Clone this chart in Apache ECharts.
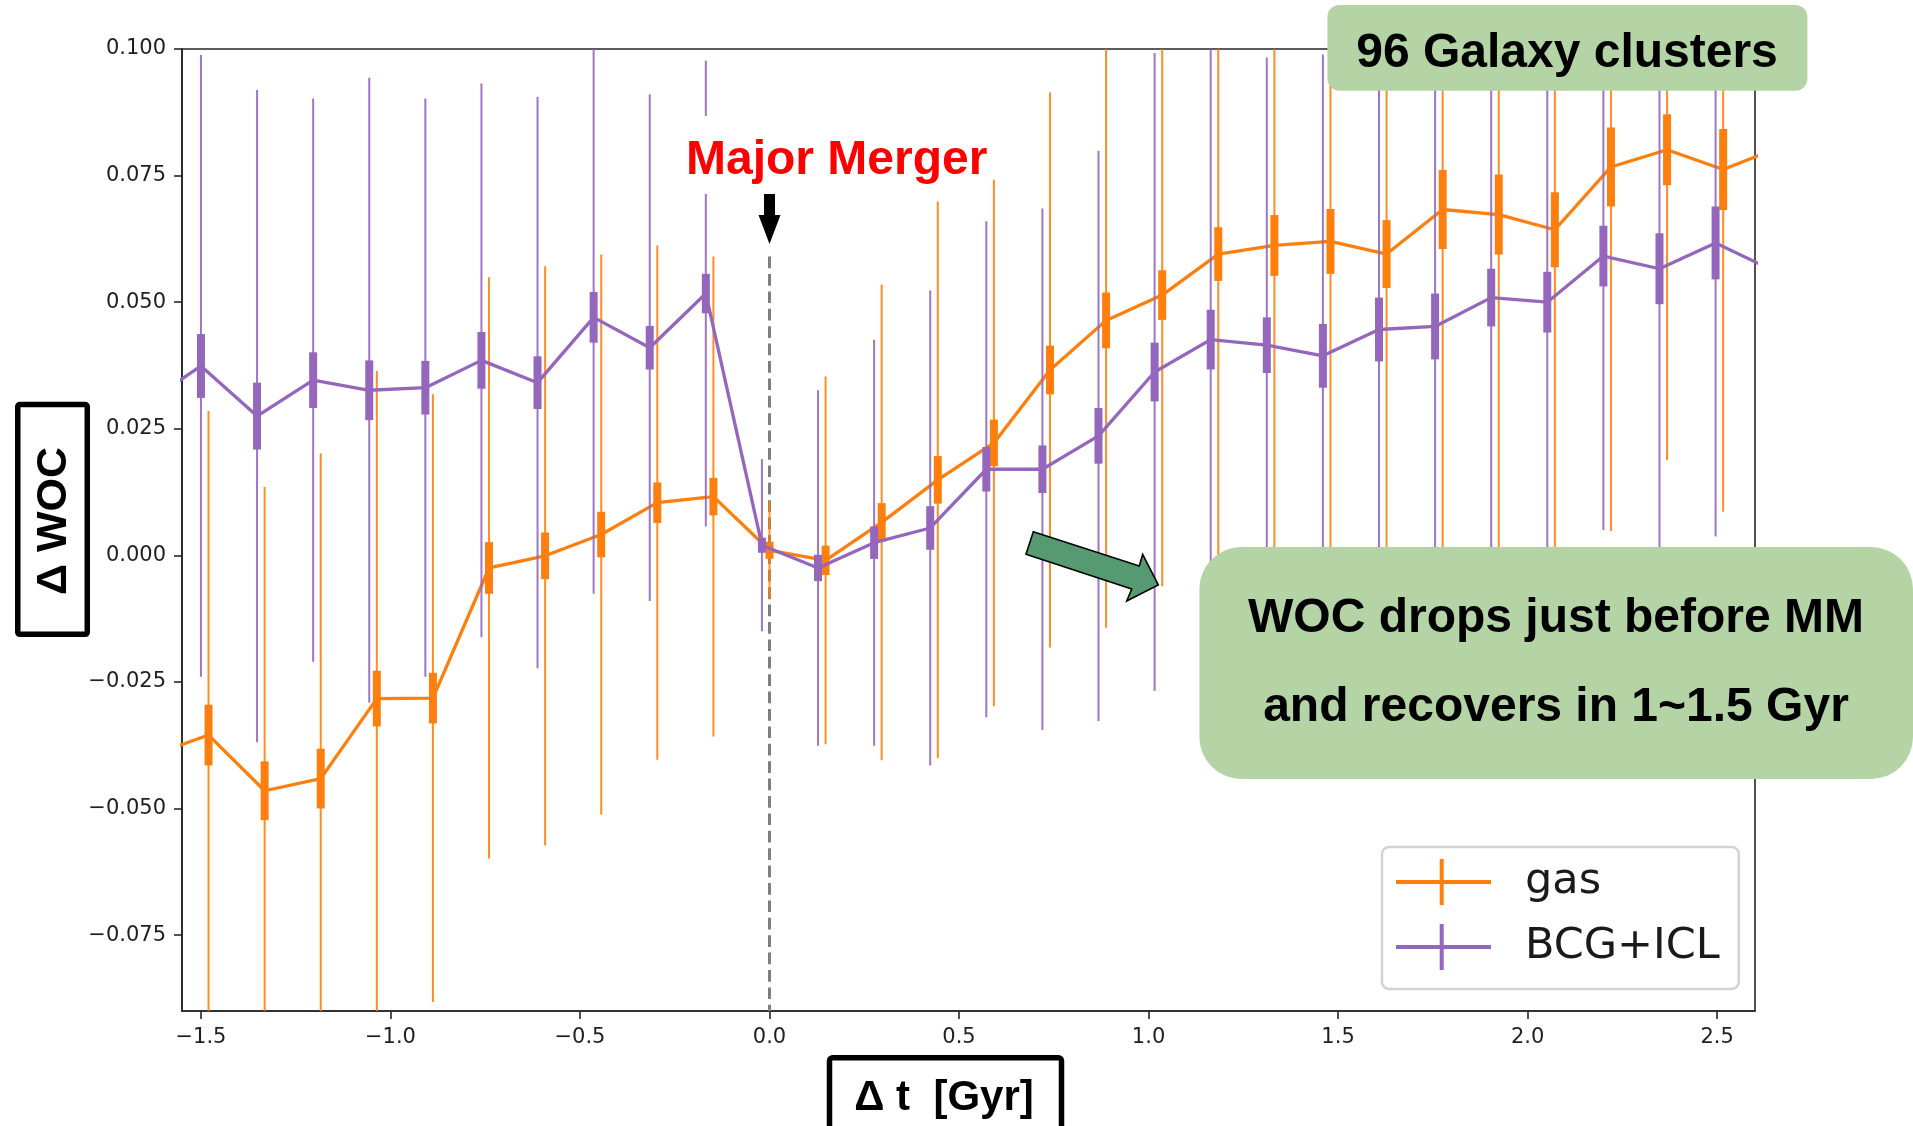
<!DOCTYPE html>
<html>
<head>
<meta charset="utf-8">
<title>ΔWOC around major mergers</title>
<script src="https://cdn.jsdelivr.net/npm/echarts@6/dist/echarts.min.js"></script>
<style>
  html, body { margin: 0; padding: 0; background: #ffffff; }
  #chart { width: 1913px; height: 1126px; }
</style>
</head>
<body>
<div id="chart"></div>
<script>
// Time relative to the major merger [Gyr]; first and last entries lie just outside the plotted window.
const times = [-1.628, -1.480, -1.332, -1.184, -1.036, -0.888, -0.740, -0.592, -0.444, -0.296,
               -0.148, 0.000, 0.148, 0.296, 0.444, 0.592, 0.740, 0.888, 1.036, 1.184,
               1.332, 1.480, 1.628, 1.776, 1.924, 2.072, 2.220, 2.368, 2.516, 2.664];

// gas: mean ΔWOC, scatter (thin bars) and error of the mean (thick bars)
const gasMean = [-0.0395, -0.0355, -0.0465, -0.0441, -0.0283, -0.0282, -0.0025, -0.0001, 0.0041, 0.0104,
                 0.0116, 0.0010, -0.0010, 0.0065, 0.0149, 0.0222, 0.0366, 0.0464, 0.0514, 0.0595,
                 0.0612, 0.0620, 0.0595, 0.0683, 0.0673, 0.0643, 0.0767, 0.0801, 0.0762, 0.0806];
const gasStd  = [null, 0.0640, 0.0600, 0.0642, 0.0647, 0.0600, 0.0574, 0.0572, 0.0553, 0.0508,
                 0.0474, 0.0097, 0.0363, 0.0470, 0.0550, 0.0520, 0.0548, 0.0607, 0.0575, 0.0600,
                 0.0620, 0.0640, 0.0660, 0.0760, 0.0770, 0.0730, 0.0719, 0.0613, 0.0676, null];
const gasSem  = [null, 0.0060, 0.0058, 0.0059, 0.0055, 0.0050, 0.0051, 0.0046, 0.0045, 0.0040,
                 0.0037, 0.0017, 0.0029, 0.0038, 0.0047, 0.0046, 0.0048, 0.0055, 0.0049, 0.0053,
                 0.0060, 0.0064, 0.0067, 0.0078, 0.0079, 0.0074, 0.0078, 0.0070, 0.0080, null];

// BCG+ICL: same quantities
const bcgMean = [0.0298, 0.0374, 0.0275, 0.0346, 0.0326, 0.0331, 0.0385, 0.0341, 0.0470, 0.0410,
                 0.0517, 0.0020, -0.0025, 0.0025, 0.0054, 0.0170, 0.0170, 0.0236, 0.0362, 0.0426,
                 0.0415, 0.0394, 0.0446, 0.0452, 0.0509, 0.0500, 0.0591, 0.0566, 0.0617, 0.0564];
const bcgStd  = [null, 0.0614, 0.0644, 0.0556, 0.0617, 0.0571, 0.0547, 0.0564, 0.0546, 0.0500,
                 0.0460, 0.0170, 0.0351, 0.0401, 0.0469, 0.0490, 0.0515, 0.0563, 0.0630, 0.0600,
                 0.0568, 0.0595, 0.0560, 0.0550, 0.0560, 0.0550, 0.0541, 0.0600, 0.0580, null];
const bcgSem  = [null, 0.0063, 0.0066, 0.0055, 0.0059, 0.0053, 0.0056, 0.0052, 0.0050, 0.0043,
                 0.0039, 0.0015, 0.0026, 0.0032, 0.0043, 0.0044, 0.0047, 0.0055, 0.0058, 0.0059,
                 0.0055, 0.0063, 0.0063, 0.0065, 0.0057, 0.0060, 0.0060, 0.0070, 0.0072, null];

// Axis ticks and the merger marker extent
const xTicks = [-1.5, -1.0, -0.5, 0.0, 0.5, 1.0, 1.5, 2.0, 2.5];
const yTicks = [-0.075, -0.050, -0.025, 0.000, 0.025, 0.050, 0.075, 0.100];
const mergerTime = 0.0;
const mergerLineTop = 0.059;

// ---- styling ----
const X_MIN = -1.55, X_MAX = 2.6, Y_MIN = -0.09, Y_MAX = 0.10;
const BCG_SHIFT = -0.02;          // horizontal dodge so the two error-bar sets do not overlap
const GAS_COLOR = '#ff7f0e';
const BCG_COLOR = '#9467bd';
const AXIS_COLOR = '#262626';
const MINUS = '\u2212';

function fmt(v, d) {
  const s = Math.abs(v).toFixed(d);
  return (v < -1e-12 ? MINUS : '') + s;
}

function errData(xs, mean, std, sem) {
  const out = [];
  xs.forEach((x, i) => { if (std[i] != null) out.push([x, mean[i], std[i], sem[i]]); });
  return out;
}

function errRenderer(color) {
  return function (params, api) {
    const x = api.value(0), y = api.value(1), s = api.value(2), e = api.value(3);
    const a = api.coord([x, y + s]), b = api.coord([x, y - s]);
    const c = api.coord([x, y + e]), d = api.coord([x, y - e]);
    return {
      type: 'group',
      children: [
        { type: 'line', shape: { x1: a[0], y1: a[1], x2: b[0], y2: b[1] },
          style: { stroke: color, lineWidth: 2, opacity: 0.9 } },
        { type: 'rect', shape: { x: c[0] - 4, y: c[1], width: 8, height: d[1] - c[1] },
          style: { fill: color } }
      ]
    };
  };
}

const gasX = times.slice();
const bcgX = times.map(t => +(t + BCG_SHIFT).toFixed(3));

const legendIcon = 'path://M0,21H95V25H0Z M43.7,0H47.7V46H43.7Z';

const chart = echarts.init(document.getElementById('chart'), null, { renderer: 'canvas' });

chart.setOption({
  animation: false,
  backgroundColor: '#ffffff',
  grid: {
    left: 182, right: 158, top: 49, bottom: 115,
    show: true, borderColor: AXIS_COLOR, borderWidth: 1.6, backgroundColor: 'transparent'
  },
  xAxis: {
    type: 'value', min: X_MIN, max: X_MAX,
    axisLine: { show: true, onZero: false, lineStyle: { color: AXIS_COLOR, width: 1.6 } },
    axisTick: { show: true, inside: false, length: 8, customValues: xTicks,
                lineStyle: { color: AXIS_COLOR, width: 1.6 } },
    axisLabel: { customValues: xTicks, margin: 16, color: '#1f1f1f',
                 fontFamily: 'DejaVu Sans', fontSize: 21, formatter: v => fmt(v, 1) },
    splitLine: { show: false }
  },
  yAxis: {
    type: 'value', min: Y_MIN, max: Y_MAX,
    axisLine: { show: true, onZero: false, lineStyle: { color: AXIS_COLOR, width: 1.6 } },
    axisTick: { show: true, inside: false, length: 8, customValues: yTicks,
                lineStyle: { color: AXIS_COLOR, width: 1.6 } },
    axisLabel: { customValues: yTicks, margin: 16, color: '#1f1f1f', padding: [8, 0, 0, 0],
                 fontFamily: 'DejaVu Sans', fontSize: 21, formatter: v => fmt(v, 3) },
    splitLine: { show: false }
  },
  legend: {
    orient: 'vertical',
    left: 1382, top: 847,
    data: [
      { name: 'gas', icon: legendIcon },
      { name: 'BCG+ICL', icon: legendIcon }
    ],
    itemWidth: 95, itemHeight: 46, itemGap: 19,
    padding: [12, 19, 19, 14],
    backgroundColor: 'rgba(255,255,255,0.85)',
    borderColor: '#d2d2d2', borderWidth: 2.5, borderRadius: 7,
    textStyle: { fontFamily: 'DejaVu Sans', fontSize: 43, lineHeight: 40, color: '#1a1a1a',
                 padding: [6, 0, 0, 29] },
    selectedMode: false
  },
  series: [
    {
      name: 'merger', type: 'line', z: 1, silent: true,
      data: [[mergerTime, mergerLineTop], [mergerTime, Y_MIN]],
      symbol: 'none',
      lineStyle: { color: '#7f7f7f', width: 3, type: [11.7, 5.7] }
    },
    {
      name: 'gasErr', type: 'custom', z: 2, clip: true, silent: true,
      data: errData(gasX, gasMean, gasStd, gasSem),
      encode: { x: 0, y: 1 },
      renderItem: errRenderer(GAS_COLOR)
    },
    {
      name: 'gas', type: 'line', z: 3, clip: true,
      data: gasX.map((x, i) => [x, gasMean[i]]),
      symbol: 'none', color: GAS_COLOR,
      itemStyle: { color: GAS_COLOR },
      lineStyle: { color: GAS_COLOR, width: 3.3 }
    },
    {
      name: 'bcgErr', type: 'custom', z: 4, clip: true, silent: true,
      data: errData(bcgX, bcgMean, bcgStd, bcgSem),
      encode: { x: 0, y: 1 },
      renderItem: errRenderer(BCG_COLOR)
    },
    {
      name: 'BCG+ICL', type: 'line', z: 5, clip: true,
      data: bcgX.map((x, i) => [x, bcgMean[i]]),
      symbol: 'none', color: BCG_COLOR,
      itemStyle: { color: BCG_COLOR },
      lineStyle: { color: BCG_COLOR, width: 3.3 }
    }
  ]
});

// ---- annotations ----
const x0 = chart.convertToPixel({ xAxisIndex: 0 }, mergerTime);
const BOLD = 'Liberation Sans, Arial, sans-serif';

chart.setOption({
  graphic: [
    // "Major Merger" label on a white patch, with a pointer down to the merger line
    { type: 'rect', z: 100, shape: { x: 683, y: 116, width: 307, height: 78 },
      style: { fill: '#ffffff' } },
    { type: 'text', z: 101, x: 836.7, y: 160.5,
      style: { text: 'Major Merger', fill: '#ff0000', font: 'bold 48px ' + BOLD,
               align: 'center', verticalAlign: 'middle' } },
    { type: 'polygon', z: 101,
      shape: { points: [[x0 - 5.5, 194], [x0 + 5.5, 194], [x0 + 5.5, 215], [x0 + 11, 215],
                        [x0, 244], [x0 - 11, 215], [x0 - 5.5, 215]] },
      style: { fill: '#000000' } },

    // cluster count tag
    { type: 'rect', z: 100, shape: { x: 1327.4, y: 5, width: 480, height: 85.7, r: 12 },
      style: { fill: '#b4d4a6' } },
    { type: 'text', z: 101, x: 1567, y: 53.5,
      style: { text: '96 Galaxy clusters', fill: '#000000', font: 'bold 48px ' + BOLD,
               align: 'center', verticalAlign: 'middle' } },

    // summary note and its arrow
    { type: 'rect', z: 100, shape: { x: 1199.4, y: 547, width: 713.6, height: 232, r: 42 },
      style: { fill: '#b4d4a6' } },
    { type: 'text', z: 101, x: 1556, y: 619,
      style: { text: 'WOC drops just before MM', fill: '#000000', font: 'bold 48px ' + BOLD,
               align: 'center', verticalAlign: 'middle' } },
    { type: 'text', z: 101, x: 1556, y: 708,
      style: { text: 'and recovers in 1~1.5 Gyr', fill: '#000000', font: 'bold 48px ' + BOLD,
               align: 'center', verticalAlign: 'middle' } },
    { type: 'polygon', z: 101,
      shape: { points: [[1033.3, 531.7], [1139.3, 566], [1142.7, 554.3], [1158.3, 585],
                        [1126.7, 601], [1131.7, 589], [1026, 554.3]] },
      style: { fill: '#569a72', stroke: '#000000', lineWidth: 1.6, lineJoin: 'miter' } },

    // boxed axis titles
    { type: 'rect', z: 100, shape: { x: 17.75, y: 404.5, width: 69.5, height: 229.8, r: 2 },
      style: { fill: '#ffffff', stroke: '#000000', lineWidth: 5.5 } },
    { type: 'text', z: 101, x: 54, y: 521, rotation: Math.PI / 2,
      style: { text: 'Δ WOC', fill: '#000000', font: 'bold 43px ' + BOLD,
               align: 'center', verticalAlign: 'middle' } },
    { type: 'rect', z: 100, shape: { x: 829.5, y: 1057.8, width: 232, height: 100, r: 3 },
      style: { fill: '#ffffff', stroke: '#000000', lineWidth: 5.5 } },
    { type: 'text', z: 101, x: 944, y: 1098,
      style: { text: 'Δ t  [Gyr]', fill: '#000000', font: 'bold 42px ' + BOLD,
               align: 'center', verticalAlign: 'middle' } }
  ]
});
</script>
</body>
</html>
